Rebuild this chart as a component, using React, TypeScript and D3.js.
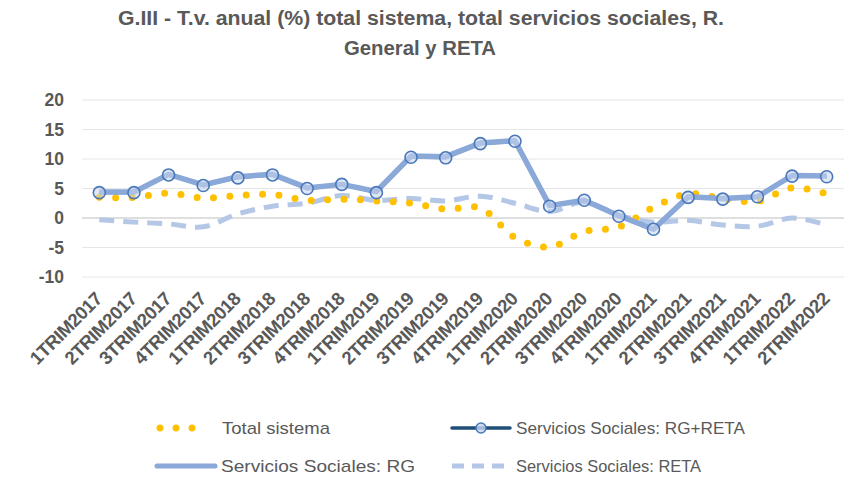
import React from "react";
import * as d3 from "d3";

const categories = [
  "1TRIM2017", "2TRIM2017", "3TRIM2017", "4TRIM2017",
  "1TRIM2018", "2TRIM2018", "3TRIM2018", "4TRIM2018",
  "1TRIM2019", "2TRIM2019", "3TRIM2019", "4TRIM2019",
  "1TRIM2020", "2TRIM2020", "3TRIM2020", "4TRIM2020",
  "1TRIM2021", "2TRIM2021", "3TRIM2021", "4TRIM2021",
  "1TRIM2022", "2TRIM2022",
];

const totalSistema = [3.5, 3.5, 4.2, 3.4, 3.8, 4.0, 3.0, 3.2, 2.9, 2.5, 1.5, 1.7, -3.3, -4.9, -2.3, -1.5, 1.8, 4.1, 3.3, 2.8, 5.1, 4.1];
const ssRgReta = [4.3, 4.3, 7.3, 5.5, 6.8, 7.3, 5.0, 5.7, 4.3, 10.3, 10.2, 12.6, 13.0, 2.0, 3.0, 0.3, -1.9, 3.5, 3.2, 3.6, 7.1, 7.0];
const ssRg = [4.4, 4.4, 7.4, 5.6, 7.0, 7.4, 5.1, 5.7, 4.5, 10.5, 10.4, 12.7, 13.1, 2.1, 3.0, 0.4, -1.9, 3.6, 3.3, 3.6, 7.2, 7.1];
const ssReta = [-0.3, -0.7, -1.0, -1.5, 0.7, 2.0, 2.5, 3.8, 3.0, 3.3, 2.9, 3.7, 2.5, 1.1, 2.7, 0.5, -0.7, -0.4, -1.2, -1.4, 0.0, -1.2];

const yTicks = [20, 15, 10, 5, 0, -5, -10];

const W = 850;
const H = 497;
const plot = { left: 82, right: 844, top: 100, bottom: 277 };

const grey = "#595959";
const yellow = "#FFC000";
const navy = "#1F4E79";
const rgBlue = "#8AA8D8";
const retaBlue = "#B4C7E7";

export default function App() {
  const x = d3.scaleBand<string>().domain(categories).range([plot.left, plot.right]);
  const y = d3.scaleLinear().domain([-10, 20]).range([plot.bottom, plot.top]);
  const cx = (i: number) => (x(categories[i]) as number) + x.bandwidth() / 2;

  const straight = d3.line<number>().x((_, i) => cx(i)).y((d) => y(d));
  const smooth = d3.line<number>().x((_, i) => cx(i)).y((d) => y(d)).curve(d3.curveCatmullRom.alpha(0.5));

  return (
    <svg width={W} height={H} style={{ position: "absolute", left: 0, top: 0, background: "#fff" }}
      fontFamily="'Liberation Sans', Arial, sans-serif">
      {/* title */}
      <text x={421} y={25} textAnchor="middle" fontWeight="bold" fontSize={19.5} fill={grey}
        textLength={606} lengthAdjust="spacingAndGlyphs">
        G.III - T.v. anual (%) total sistema, total servicios sociales, R.
      </text>
      <text x={420} y={55} textAnchor="middle" fontWeight="bold" fontSize={19.5} fill={grey}
        textLength={152} lengthAdjust="spacingAndGlyphs">
        General y RETA
      </text>

      {/* grid + y axis */}
      {yTicks.map((t) => (
        <g key={t}>
          <line x1={plot.left} x2={plot.right} y1={y(t)} y2={y(t)}
            stroke={t === 0 ? "#BFBFBF" : "#E6E6E6"} strokeWidth={t === 0 ? 1.2 : 1} />
          <text x={64} y={y(t)} dy="0.36em" textAnchor="end" fontWeight="bold" fontSize={17.5} fill={grey}>
            {t}
          </text>
        </g>
      ))}

      {/* x labels */}
      {categories.map((c, i) => (
        <text key={c} transform={`translate(${cx(i) + 4},${300}) rotate(-45)`} textAnchor="end"
          fontWeight="bold" fontSize={18.5} fill={grey} letterSpacing={-0.4}>
          {c}
        </text>
      ))}

      {/* series */}
      <path d={smooth(ssReta) as string} fill="none" stroke={retaBlue} strokeWidth={5} strokeDasharray="15 9" />
      <path d={smooth(totalSistema) as string} fill="none" stroke={yellow} strokeWidth={7}
        strokeDasharray="0 16.4" strokeLinecap="round" />
      <path d={straight(ssRgReta) as string} fill="none" stroke={navy} strokeWidth={3} strokeLinejoin="round" />
      <path d={straight(ssRg) as string} fill="none" stroke={rgBlue} strokeWidth={5.5} strokeLinejoin="round" />
      {ssRgReta.map((v, i) => (
        <circle key={i} cx={cx(i)} cy={y(v)} r={6} fill="rgba(200,214,236,0.55)" stroke="#4A78BA" strokeWidth={1.6} />
      ))}

      {/* legend */}
      <g fontSize={17} fill={grey}>
        <line x1={160} x2={208} y1={428} y2={428} stroke={yellow} strokeWidth={7}
          strokeDasharray="0 16" strokeLinecap="round" />
        <text x={222} y={428} dy="0.36em" textLength={108} lengthAdjust="spacingAndGlyphs">Total sistema</text>

        <line x1={452} x2={510} y1={428} y2={428} stroke={navy} strokeWidth={3.5} strokeLinecap="round" />
        <circle cx={481} cy={428} r={5} fill="rgba(200,214,236,0.8)" stroke="#4A78BA" strokeWidth={1.5} />
        <text x={516} y={428} dy="0.36em" textLength={229} lengthAdjust="spacingAndGlyphs">Servicios Sociales: RG+RETA</text>

        <line x1={157} x2={215} y1={466} y2={466} stroke={rgBlue} strokeWidth={5} strokeLinecap="round" />
        <text x={221} y={466} dy="0.36em" textLength={194} lengthAdjust="spacingAndGlyphs">Servicios Sociales: RG</text>

        <line x1={452} x2={510} y1={466} y2={466} stroke={retaBlue} strokeWidth={5} strokeDasharray="12 8" />
        <text x={516} y={466} dy="0.36em" textLength={185} lengthAdjust="spacingAndGlyphs">Servicios Sociales: RETA</text>
      </g>
    </svg>
  );
}
